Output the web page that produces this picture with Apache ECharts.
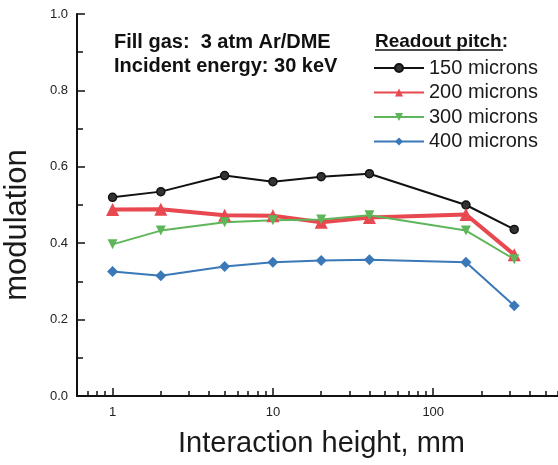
<!DOCTYPE html>
<html>
<head>
<meta charset="utf-8">
<script src="https://cdn.jsdelivr.net/npm/echarts/dist/echarts.min.js"></script>
<style>
  html, body { margin: 0; padding: 0; background: #fff; }
  #chart { width: 558px; height: 465px; }
</style>
</head>
<body>
<div id="chart"></div>
<script>
// interaction height, mm
var heights = [1, 2, 5, 10, 20, 40, 160, 320];
// modulation per readout pitch
var pitch150 = [0.52, 0.535, 0.577, 0.561, 0.574, 0.582, 0.50, 0.436];
var pitch200 = [0.488, 0.489, 0.473, 0.472, 0.455, 0.467, 0.475, 0.37];
var pitch300 = [0.397, 0.433, 0.455, 0.46, 0.462, 0.473, 0.433, 0.358];
var pitch400 = [0.326, 0.315, 0.339, 0.35, 0.355, 0.357, 0.35, 0.236];
var seriesNames = ['150 microns', '200 microns', '300 microns', '400 microns'];
// ticks
var xMajorTicks = [1, 10, 100];
var xMinorTicks = [0.6, 0.7, 0.8, 0.9, 2, 3, 4, 5, 6, 7, 8, 9,
  20, 30, 40, 50, 60, 70, 80, 90, 200, 300, 400, 500, 600];

function pairs(ys) {
  var out = [];
  for (var i = 0; i < heights.length; i++) out.push([heights[i], ys[i]]);
  return out;
}

var chart = echarts.init(document.getElementById('chart'));

var fontFam = '"Liberation Sans", Arial, sans-serif';

chart.setOption({
  backgroundColor: '#fff',
  animation: false,
  textStyle: { fontFamily: fontFam },
  grid: { left: 77, right: 0, top: 14, bottom: 69, outerBoundsMode: 'none' },
  legend: {
    orient: 'vertical',
    left: 373,
    top: 58,
    padding: 0,
    itemWidth: 50,
    itemHeight: 10,
    itemGap: 4.5,
    textStyle: { fontSize: 20, color: '#1a1a1a', lineHeight: 20, fontFamily: fontFam },
    data: seriesNames
  },
  graphic: [
    { type: 'text', left: 114, top: 32, style: { text: 'Fill gas:  3 atm Ar/DME', font: 'bold 20px ' + fontFam, fill: '#111' } },
    { type: 'text', left: 114, top: 56, style: { text: 'Incident energy: 30 keV', font: 'bold 20px ' + fontFam, fill: '#111' } },
    { type: 'text', left: 375, top: 32, style: { text: 'Readout pitch:', font: 'bold 19px ' + fontFam, fill: '#111' } },
    { type: 'line', shape: { x1: 375, y1: 50, x2: 503, y2: 50 }, style: { stroke: '#111', lineWidth: 1.5 } }
  ],
  xAxis: [
    {
      type: 'log',
      logBase: 10,
      min: 0.6,
      max: 600,
      position: 'bottom',
      name: 'Interaction height, mm',
      nameLocation: 'middle',
      nameGap: 33,
      nameTextStyle: { fontSize: 29, color: '#1a1a1a', fontFamily: fontFam, padding: [0, 0, 0, 8] },
      axisLine: { show: true, lineStyle: { color: '#111', width: 2 } },
      axisTick: { show: true, inside: true, length: 8, customValues: xMajorTicks, lineStyle: { color: '#111', width: 1.5 } },
      axisLabel: { customValues: xMajorTicks, fontSize: 13, color: '#222', margin: 10 },
      splitLine: { show: false }
    },
    {
      type: 'log',
      logBase: 10,
      min: 0.6,
      max: 600,
      position: 'bottom',
      axisLine: { show: false },
      axisTick: { show: true, inside: true, length: 5, customValues: xMinorTicks, lineStyle: { color: '#111', width: 1.5 } },
      axisLabel: { show: false },
      splitLine: { show: false }
    }
  ],
  yAxis: {
    type: 'value',
    min: 0,
    max: 1,
    interval: 0.2,
    name: 'modulation',
    nameLocation: 'middle',
    nameGap: 44,
    nameTextStyle: { fontSize: 31, color: '#1a1a1a', fontFamily: fontFam, padding: [0, 40, 0, 0] },
    axisLine: { show: true, lineStyle: { color: '#111', width: 2 } },
    axisTick: { show: true, inside: true, length: 8, lineStyle: { color: '#111', width: 1.5 } },
    minorTick: { show: true, splitNumber: 2, length: 6, lineStyle: { color: '#111', width: 1.5 } },
    axisLabel: { fontSize: 13, color: '#222', margin: 9, formatter: function (v) { return v.toFixed(1); } },
    splitLine: { show: false }
  },
  series: [
    {
      name: seriesNames[0], type: 'line', data: pairs(pitch150),
      symbol: 'circle', symbolSize: 8,
      lineStyle: { color: '#111', width: 2 },
      itemStyle: { color: '#333', borderColor: '#111', borderWidth: 1.5 }
    },
    {
      name: seriesNames[1], type: 'line', data: pairs(pitch200),
      symbol: 'triangle', symbolSize: 13,
      lineStyle: { color: '#e8484f', width: 4 },
      itemStyle: { color: '#e8484f' }
    },
    {
      name: seriesNames[2], type: 'line', data: pairs(pitch300),
      symbol: 'path://M0,0 L10,0 L5,10 Z', symbolSize: 10,
      lineStyle: { color: '#5fb65a', width: 2 },
      itemStyle: { color: '#5fb65a' }
    },
    {
      name: seriesNames[3], type: 'line', data: pairs(pitch400),
      symbol: 'diamond', symbolSize: 11,
      lineStyle: { color: '#3a78b8', width: 2 },
      itemStyle: { color: '#3a78b8' }
    }
  ]
});
</script>
</body>
</html>
